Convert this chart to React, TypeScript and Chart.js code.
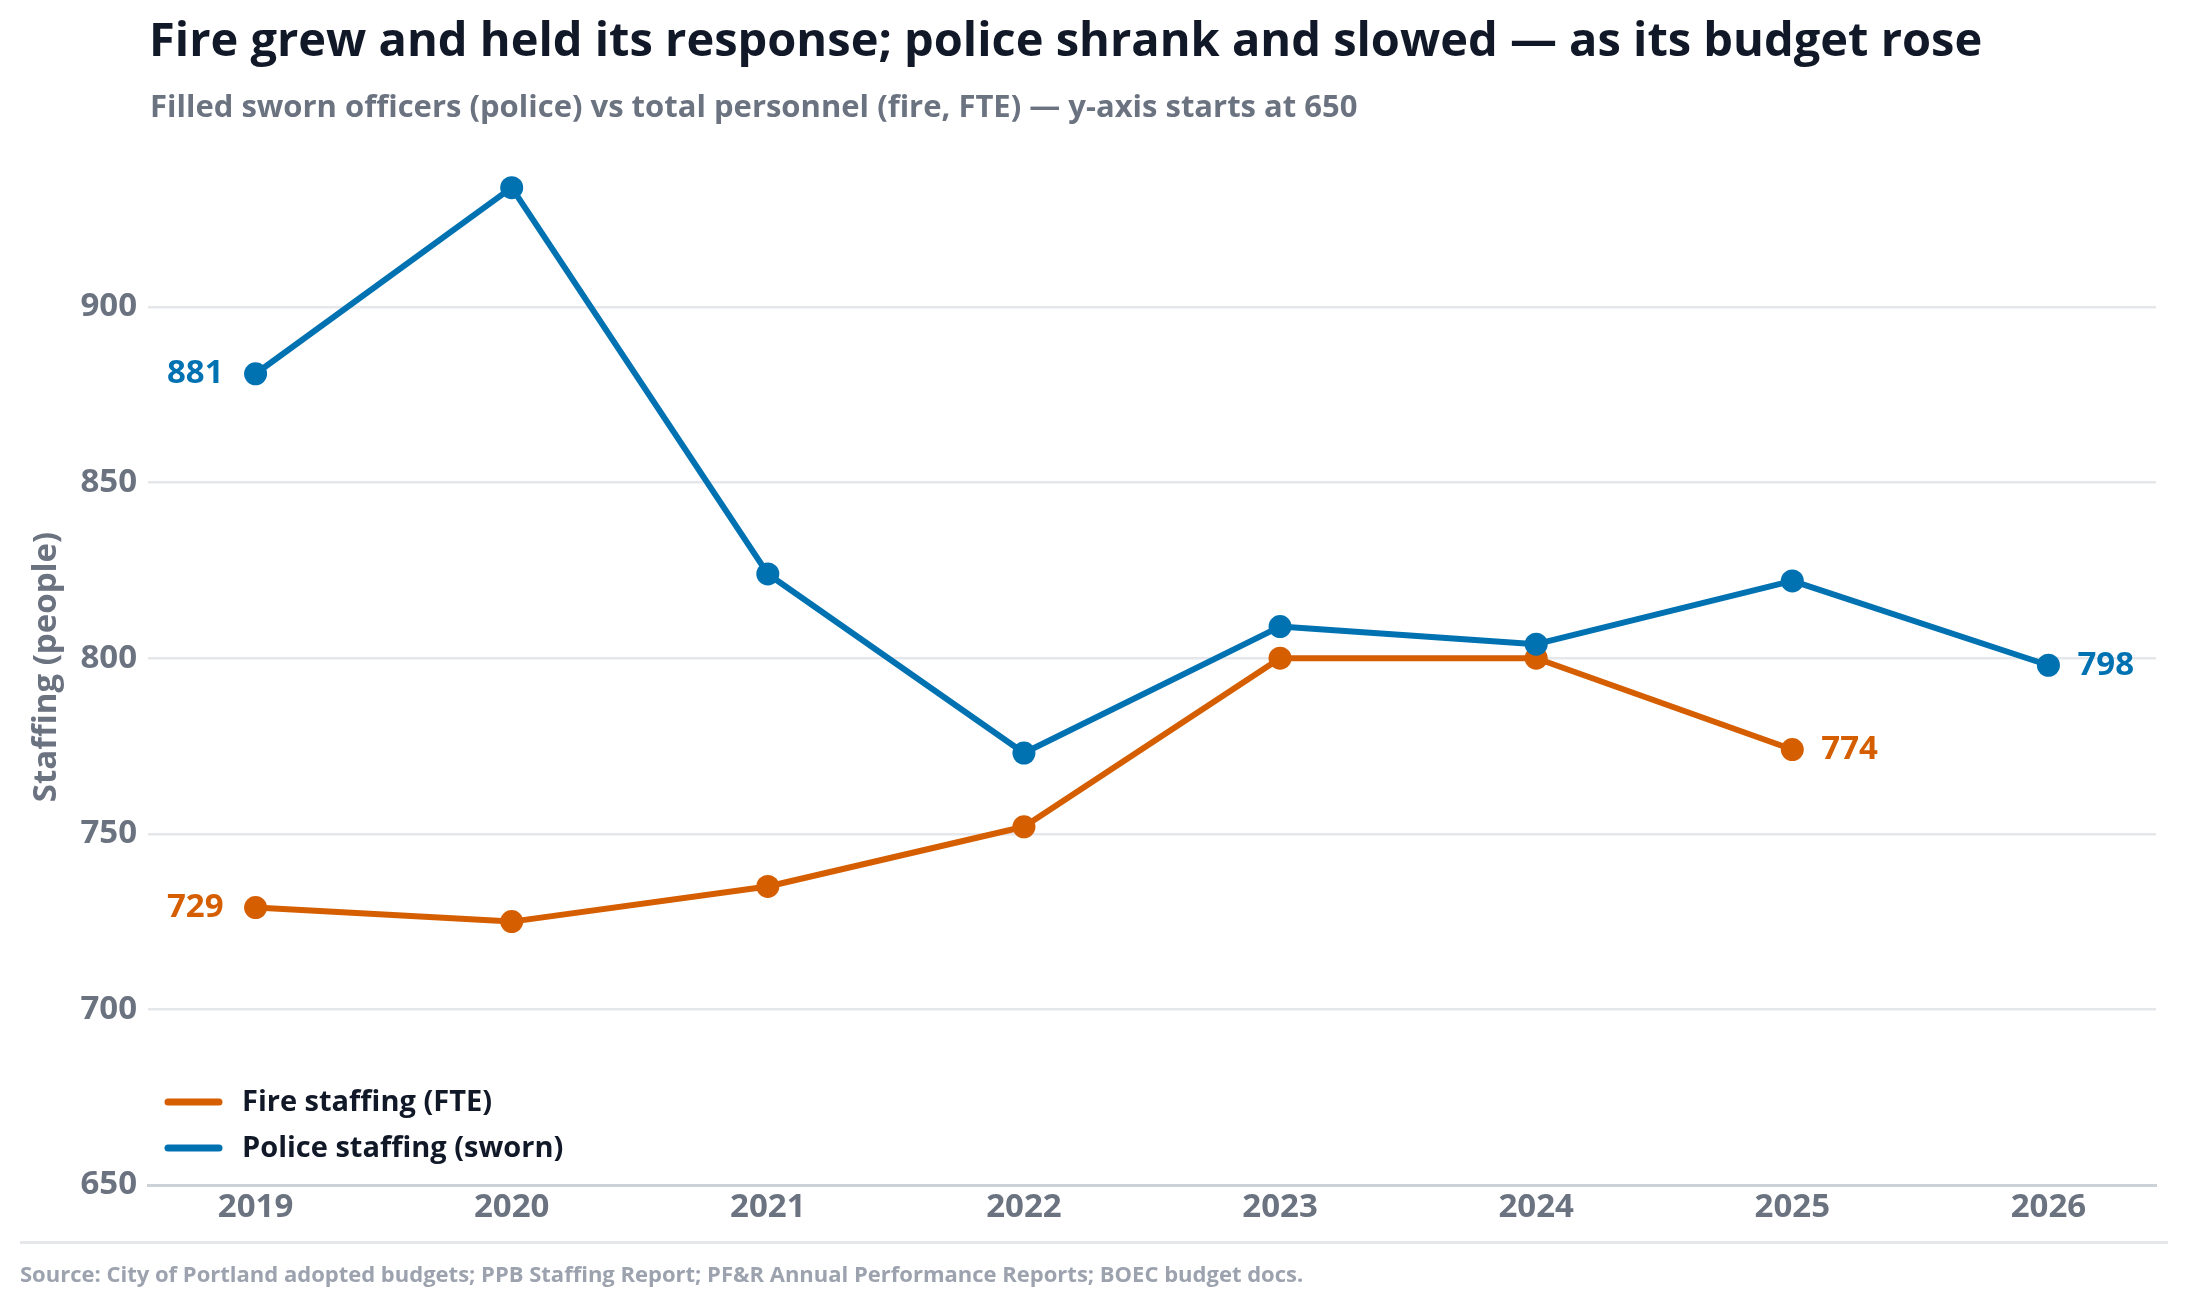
import { useEffect, useRef } from "react";
import { Chart, registerables, type Plugin } from "chart.js";

Chart.register(...registerables);

const years = [2019, 2020, 2021, 2022, 2023, 2024, 2025, 2026];
const fireStaff = [729, 725, 735, 752, 800, 800, 774];
const policeStaff = [881, 934, 824, 773, 809, 804, 822, 798];
const yTicks = [650, 700, 750, 800, 850, 900];

const FIRE = "#D55E00";
const POLICE = "#0072B2";
const FONT = "'Open Sans', Lato, sans-serif";

// labels the first and last point of each line
const endLabels: Plugin<"line"> = {
  id: "endLabels",
  afterDatasetsDraw(chart) {
    const ctx = chart.ctx;
    ctx.save();
    ctx.font = `700 33px ${FONT}`;
    ctx.textBaseline = "middle";
    chart.data.datasets.forEach((ds, i) => {
      const pts = chart.getDatasetMeta(i).data;
      const vals = ds.data as { x: number; y: number }[];
      if (!pts.length) return;
      ctx.fillStyle = ds.borderColor as string;
      const first = pts[0];
      ctx.textAlign = "right";
      ctx.fillText(String(vals[0].y), first.x - 32, first.y);
      const last = pts[pts.length - 1];
      ctx.textAlign = "left";
      ctx.fillText(String(vals[vals.length - 1].y), last.x + 29, last.y);
    });
    ctx.restore();
  },
};

// legend sits inside the plot, bottom left
const innerLegend: Plugin<"line"> = {
  id: "innerLegend",
  afterDraw(chart) {
    const ctx = chart.ctx;
    const { left, bottom } = chart.chartArea;
    ctx.save();
    ctx.font = `700 29px ${FONT}`;
    ctx.textBaseline = "middle";
    ctx.textAlign = "left";
    ctx.lineCap = "round";
    ctx.lineWidth = 7;
    chart.data.datasets.forEach((ds, i) => {
      const y = bottom - 83 + i * 46;
      ctx.strokeStyle = ds.borderColor as string;
      ctx.beginPath();
      ctx.moveTo(left + 20, y);
      ctx.lineTo(left + 71, y);
      ctx.stroke();
      ctx.fillStyle = "#111827";
      ctx.fillText(ds.label ?? "", left + 94, y + 1);
    });
    ctx.restore();
  },
};

export default function App() {
  const canvasRef = useRef<HTMLCanvasElement>(null);

  useEffect(() => {
    document.body.style.margin = "0";
    document.body.style.overflow = "hidden";
    let chart: Chart<"line"> | null = null;
    let dead = false;

    document.fonts.load(`700 30px 'Open Sans'`).finally(() => {
      if (dead || !canvasRef.current) return;
      chart = new Chart(canvasRef.current, {
        type: "line",
        data: {
          datasets: [
            {
              label: "Fire staffing (FTE)",
              data: fireStaff.map((v, i) => ({ x: years[i], y: v })),
              borderColor: FIRE,
              backgroundColor: FIRE,
              pointBackgroundColor: FIRE,
              order: 1,
            },
            {
              label: "Police staffing (sworn)",
              data: policeStaff.map((v, i) => ({ x: years[i], y: v })),
              borderColor: POLICE,
              backgroundColor: POLICE,
              pointBackgroundColor: POLICE,
              order: 0,
            },
          ],
        },
        options: {
          responsive: false,
          animation: false,
          layout: { padding: { top: 149, right: 31, bottom: 72, left: 0 } },
          elements: {
            line: { borderWidth: 6, tension: 0, borderJoinStyle: "round" },
            point: { radius: 11.5, borderWidth: 0, hoverRadius: 11.5 },
          },
          plugins: {
            legend: { display: false },
            tooltip: { enabled: false },
          },
          scales: {
            x: {
              type: "linear",
              min: 2018.58,
              max: 2026.42,
              afterFit: (s) => {
                s.height = 50;
              },
              afterBuildTicks: (s) => {
                s.ticks = years.map((y) => ({ value: y }));
              },
              grid: { display: false, drawTicks: false },
              border: { color: "#cdd2d9", width: 3 },
              ticks: {
                autoSkip: false,
                maxRotation: 0,
                padding: 3,
                color: "#6b7280",
                font: { family: FONT, size: 33, weight: 700 },
                callback: (v) => String(v),
              },
            },
            y: {
              type: "linear",
              min: 650,
              max: 945,
              afterFit: (s) => {
                s.width = 148;
              },
              afterBuildTicks: (s) => {
                s.ticks = yTicks.map((v) => ({ value: v }));
              },
              border: { display: false },
              grid: {
                drawTicks: false,
                lineWidth: 2.5,
                color: (c) => (c.tick && c.tick.value === 650 ? "rgba(0,0,0,0)" : "#e6e7eb"),
              },
              ticks: {
                padding: 11,
                color: "#6b7280",
                font: { family: FONT, size: 33, weight: 700 },
                callback: (v) => String(v),
              },
              title: {
                display: true,
                text: "Staffing (people)",
                color: "#6b7280",
                font: { family: FONT, size: 33, weight: 700 },
                padding: { top: 27, bottom: 0 },
              },
            },
          },
        },
        plugins: [endLabels, innerLegend],
      });
    });

    return () => {
      dead = true;
      chart?.destroy();
    };
  }, []);

  return (
    <div
      style={{
        position: "relative",
        width: 2187,
        height: 1307,
        background: "#fff",
        fontFamily: FONT,
        overflow: "hidden",
      }}
    >
      <canvas
        ref={canvasRef}
        width={2187}
        height={1307}
        style={{ position: "absolute", left: 0, top: 0, width: 2187, height: 1307 }}
      />
      <div
        style={{
          position: "absolute",
          left: 149,
          top: 15,
          fontSize: 47,
          lineHeight: 1,
          fontWeight: 700,
          color: "#111827",
          whiteSpace: "nowrap",
        }}
      >
        Fire grew and held its response; police shrank and slowed — as its budget rose
      </div>
      <div
        style={{
          position: "absolute",
          left: 150,
          top: 90,
          fontSize: 31,
          lineHeight: 1,
          fontWeight: 700,
          color: "#6b7280",
          whiteSpace: "nowrap",
        }}
      >
        Filled sworn officers (police) vs total personnel (fire, FTE) — y-axis starts at 650
      </div>
      <div
        style={{
          position: "absolute",
          left: 20,
          top: 1241,
          width: 2148,
          height: 3,
          background: "#e6e7eb",
        }}
      />
      <div
        style={{
          position: "absolute",
          left: 20,
          top: 1262,
          fontSize: 22,
          lineHeight: 1,
          fontWeight: 700,
          color: "#9ca3af",
          whiteSpace: "nowrap",
        }}
      >
        Source: City of Portland adopted budgets; PPB Staffing Report; PF&amp;R Annual Performance Reports; BOEC budget docs.
      </div>
    </div>
  );
}
